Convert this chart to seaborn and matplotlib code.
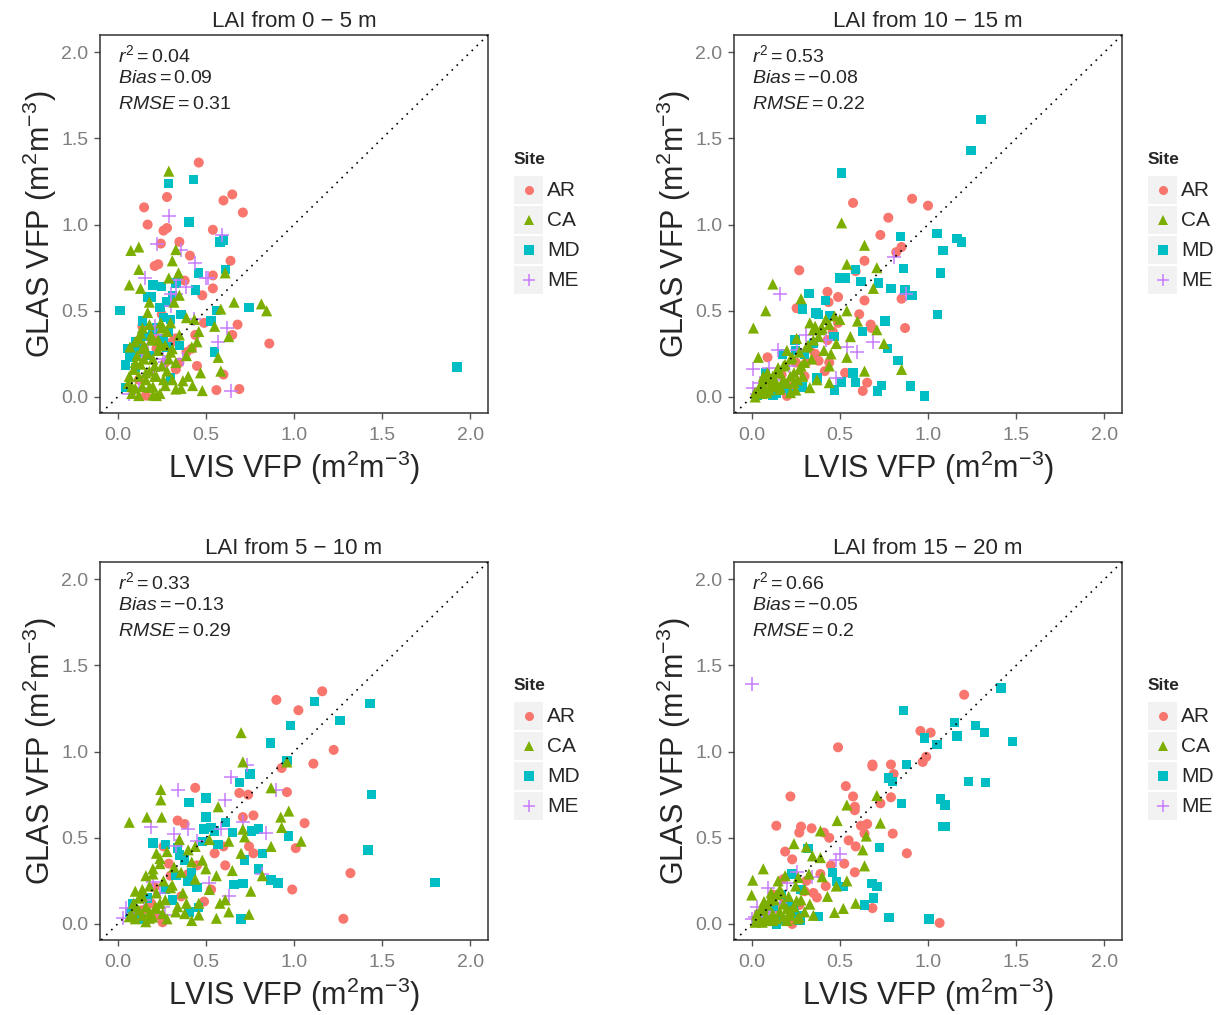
import numpy as np
import pandas as pd
import matplotlib
matplotlib.use("Agg")
import matplotlib.pyplot as plt
from matplotlib.patches import Rectangle
from matplotlib.lines import Line2D
import seaborn as sns

# ---------------- data ----------------
titles = ["LAI from 0 \u2212 5 m", "LAI from 10 \u2212 15 m", "LAI from 5 \u2212 10 m", "LAI from 15 \u2212 20 m"]
r2_vals = ["0.04", "0.53", "0.33", "0.66"]
bias_vals = ["0.09", "-0.08", "-0.13", "-0.05"]
rmse_vals = ["0.31", "0.22", "0.29", "0.2"]
sites = ["AR", "CA", "MD", "ME"]
tick_vals = [0.0, 0.5, 1.0, 1.5, 2.0]
tick_labels = ["0.0", "0.5", "1.0", "1.5", "2.0"]

# panel 1 : 0-5 m
p1_AR_x = [0.46, 0.65, 0.60, 0.71, 0.28, 0.15, 0.17, 0.26, 0.28, 0.54, 0.35, 0.245, 0.41, 0.21, 0.23, 0.64, 0.54, 0.38, 0.54, 0.48, 0.14, 0.49, 0.68, 0.65, 0.86, 0.42, 0.35, 0.60, 0.56, 0.69, 0.16, 0.22, 0.27, 0.33, 0.39, 0.12,
           0.20, 0.31, 0.44, 0.25, 0.33, 0.45]
p1_AR_y = [1.36, 1.175, 1.14, 1.07, 1.16, 1.10, 1.00, 0.965, 0.98, 0.97, 0.90, 0.89, 0.82, 0.76, 0.77, 0.79, 0.705, 0.675, 0.63, 0.59, 0.41, 0.43, 0.42, 0.36, 0.31, 0.28, 0.20, 0.13, 0.04, 0.046, 0.008, 0.28, 0.20, 0.34, 0.26, 0.10,
           0.35, 0.32, 0.36, 0.48, 0.16, 0.18]
p1_CA_x = [0.29, 0.075, 0.12, 0.33, 0.31, 0.12, 0.345, 0.29, 0.066, 0.13, 0.61, 0.66, 0.815, 0.845, 0.585, 0.18, 0.17, 0.245, 0.46, 0.55, 0.63, 0.45, 0.57, 0.585, 0.47, 0.425, 0.48, 0.22, 0.12, 0.37, 0.31, 0.10, 0.14, 0.20, 0.066, 0.16, 0.25, 0.10, 0.23, 0.28, 0.39, 0.33, 0.18, 0.27, 0.13, 0.39, 0.435, 0.35, 0.32, 0.08, 0.21, 0.15, 0.30, 0.24, 0.19,
           0.08, 0.10, 0.12, 0.14, 0.16, 0.18, 0.20, 0.22, 0.24, 0.26, 0.28, 0.09, 0.11, 0.13, 0.15, 0.17, 0.19, 0.21, 0.23, 0.25, 0.27, 0.29, 0.31, 0.33, 0.12, 0.07, 0.18, 0.14, 0.30, 0.35, 0.42, 0.40, 0.36, 0.06, 0.20]
p1_CA_y = [1.31, 0.85, 0.87, 0.855, 0.79, 0.74, 0.72, 0.69, 0.65, 0.63, 0.72, 0.55, 0.54, 0.50, 0.51, 0.55, 0.49, 0.43, 0.38, 0.41, 0.35, 0.32, 0.23, 0.15, 0.14, 0.066, 0.037, 0.008, 0.008, 0.094, 0.10, 0.32, 0.28, 0.22, 0.12, 0.14, 0.18, 0.20, 0.33, 0.38, 0.24, 0.046, 0.056, 0.066, 0.37, 0.46, 0.45, 0.59, 0.55, 0.06, 0.12, 0.22, 0.26, 0.30, 0.36,
           0.02, 0.05, 0.12, 0.06, 0.10, 0.15, 0.06, 0.12, 0.02, 0.10, 0.15, 0.16, 0.24, 0.19, 0.30, 0.25, 0.33, 0.18, 0.27, 0.40, 0.30, 0.22, 0.28, 0.20, 0.34, 0.29, 0.42, 0.40, 0.43, 0.36, 0.29, 0.12, 0.05, 0.08, 0.01]
p1_MD_x = [0.43, 0.29, 0.405, 0.58, 0.60, 0.61, 0.46, 0.013, 0.745, 1.925, 0.20, 0.25, 0.44, 0.19, 0.28, 0.56, 0.53, 0.29, 0.26, 0.057, 0.066, 0.043, 0.10, 0.35, 0.55, 0.043, 0.30, 0.20, 0.31, 0.33, 0.16, 0.12,
           0.08, 0.12, 0.18, 0.22, 0.26, 0.30, 0.14, 0.24, 0.17, 0.36, 0.10, 0.28]
p1_MD_y = [1.26, 1.24, 1.015, 0.90, 0.91, 0.74, 0.72, 0.50, 0.52, 0.175, 0.65, 0.64, 0.62, 0.58, 0.55, 0.50, 0.44, 0.38, 0.46, 0.28, 0.23, 0.185, 0.32, 0.30, 0.26, 0.056, 0.11, 0.39, 0.585, 0.66, 0.35, 0.26,
           0.26, 0.30, 0.24, 0.40, 0.34, 0.45, 0.44, 0.52, 0.58, 0.48, 0.17, 0.29]
p1_ME_x = [0.29, 0.225, 0.59, 0.36, 0.44, 0.50, 0.51, 0.157, 0.33, 0.39, 0.33, 0.30, 0.435, 0.62, 0.57, 0.27, 0.64, 0.066, 0.14, 0.37, 0.21,
           0.17, 0.23, 0.26, 0.30, 0.20, 0.12]
p1_ME_y = [1.05, 0.89, 0.94, 0.855, 0.78, 0.69, 0.69, 0.69, 0.68, 0.64, 0.595, 0.53, 0.45, 0.40, 0.32, 0.20, 0.033, 0.02, 0.25, 0.22, 0.41,
           0.31, 0.36, 0.22, 0.60, 0.15, 0.05]

# panel 2 : 10-15 m
p2_AR_x = [0.91, 1.00, 0.575, 0.775, 0.73, 0.85, 0.64, 0.27, 0.43, 0.436, 0.49, 0.61, 0.675, 0.68, 0.87, 0.85, 0.64, 0.255, 0.49, 0.43, 0.53, 0.655, 0.63, 0.20, 0.09, 0.415, 0.36, 0.31, 0.44, 0.82, 0.59,
           0.05, 0.11, 0.17, 0.25, 0.33, 0.38, 0.46, 0.22, 0.30]
p2_AR_y = [1.15, 1.11, 1.126, 1.04, 0.94, 0.87, 0.79, 0.735, 0.61, 0.55, 0.58, 0.48, 0.42, 0.40, 0.40, 0.57, 0.56, 0.515, 0.43, 0.33, 0.14, 0.083, 0.035, 0.006, 0.23, 0.15, 0.25, 0.20, 0.20, 0.84, 0.73,
           0.04, 0.08, 0.13, 0.20, 0.28, 0.21, 0.38, 0.06, 0.12]
p2_CA_x = [0.51, 0.64, 0.54, 0.71, 0.12, 0.28, 0.08, 0.01, 0.71, 0.75, 0.85, 0.64, 0.60, 0.54, 0.69, 0.33, 0.39, 0.42, 0.48, 0.54, 0.56, 0.44, 0.33, 0.22, 0.066, 0.038, 0.16, 0.255, 0.27, 0.12, 0.44, 0.019, 0.057, 0.10, 0.14, 0.18, 0.22, 0.085, 0.16, 0.24, 0.29, 0.37, 0.20, 0.31, 0.35,
           0.02, 0.04, 0.06, 0.08, 0.10, 0.12, 0.14, 0.16, 0.18, 0.20, 0.22, 0.24, 0.26, 0.28, 0.30, 0.12, 0.15, 0.19, 0.23, 0.27, 0.32, 0.35, 0.38, 0.44, 0.47, 0.41, 0.34, 0.25, 0.07, 0.05, 0.09, 0.40, 0.36, 0.45, 0.50]
p2_CA_y = [1.01, 0.88, 0.77, 0.75, 0.655, 0.57, 0.50, 0.40, 0.39, 0.31, 0.16, 0.15, 0.44, 0.50, 0.63, 0.43, 0.39, 0.45, 0.31, 0.23, 0.35, 0.18, 0.054, 0.025, 0.12, 0.23, 0.14, 0.34, 0.16, 0.083, 0.083, 0.025, 0.063, 0.10, 0.14, 0.18, 0.22, 0.025, 0.044, 0.083, 0.12, 0.10, 0.27, 0.29, 0.39,
           0.00, 0.03, 0.02, 0.05, 0.04, 0.06, 0.08, 0.06, 0.10, 0.08, 0.12, 0.14, 0.10, 0.18, 0.20, 0.12, 0.17, 0.19, 0.23, 0.26, 0.30, 0.33, 0.35, 0.42, 0.47, 0.27, 0.22, 0.04, 0.10, 0.07, 0.14, 0.40, 0.41, 0.25, 0.45]
p2_MD_x = [1.30, 1.245, 0.51, 1.05, 1.165, 1.19, 1.085, 0.845, 1.07, 0.86, 0.59, 0.50, 0.53, 0.62, 0.72, 0.79, 0.87, 0.91, 0.325, 0.29, 0.364, 1.055, 0.757, 0.63, 0.466, 0.245, 0.77, 0.83, 0.575, 0.51, 0.59, 0.736, 0.713, 0.90, 0.98, 0.29, 0.47, 0.08, 0.12, 0.37, 0.175, 0.35,
           0.03, 0.06, 0.14, 0.22, 0.18, 0.25, 0.30, 0.42, 0.38, 0.44]
p2_MD_y = [1.61, 1.43, 1.30, 0.95, 0.92, 0.90, 0.85, 0.93, 0.72, 0.745, 0.74, 0.69, 0.69, 0.67, 0.66, 0.63, 0.62, 0.59, 0.60, 0.51, 0.486, 0.48, 0.44, 0.38, 0.35, 0.33, 0.28, 0.21, 0.14, 0.086, 0.083, 0.067, 0.035, 0.063, 0.006, 0.058, 0.04, 0.14, 0.01, 0.11, 0.25, 0.31,
           0.01, 0.05, 0.02, 0.02, 0.05, 0.27, 0.25, 0.56, 0.48, 0.47]
p2_ME_x = [0.805, 0.877, 0.16, 0.69, 0.60, 0.31, 0.15, 0.006, 0.10, 0.26, 0.42, 0.48, 0.01, 0.54,
           0.03, 0.05, 0.13, 0.21]
p2_ME_y = [0.81, 0.60, 0.60, 0.32, 0.26, 0.36, 0.27, 0.163, 0.17, 0.27, 0.33, 0.11, 0.054, 0.29,
           0.02, 0.08, 0.10, 0.18]

# panel 3 : 5-10 m
p3_AR_x = [1.16, 0.90, 1.025, 1.225, 1.11, 0.93, 0.44, 0.69, 0.74, 0.96, 0.34, 0.38, 0.71, 0.77, 1.06, 0.26, 0.745, 1.01, 0.55, 0.77, 0.29, 0.61, 1.32, 0.99, 0.53, 0.49, 1.28, 0.255, 0.21, 0.14, 0.40,
           0.11, 0.19, 0.23, 0.30, 0.36, 0.45, 0.60]
p3_AR_y = [1.35, 1.30, 1.24, 1.01, 0.93, 0.905, 0.79, 0.76, 0.75, 0.765, 0.60, 0.58, 0.62, 0.63, 0.585, 0.45, 0.45, 0.44, 0.41, 0.41, 0.35, 0.34, 0.295, 0.20, 0.20, 0.13, 0.03, 0.01, 0.215, 0.08, 0.29,
           0.05, 0.12, 0.05, 0.28, 0.16, 0.34, 0.45]
p3_CA_x = [0.70, 0.71, 0.96, 0.245, 0.245, 0.87, 0.57, 0.066, 0.166, 0.25, 0.97, 0.925, 0.93, 1.04, 0.71, 0.72, 0.87, 0.35, 0.44, 0.40, 0.52, 0.70, 0.63, 0.22, 0.24, 0.20, 0.42, 0.48, 0.56, 0.65, 0.82, 0.755, 0.61, 0.63, 0.745, 0.56, 0.46, 0.066, 0.10, 0.14, 0.18, 0.215, 0.27, 0.33, 0.37, 0.16, 0.10, 0.46, 0.31, 0.39, 0.255,
           0.08, 0.10, 0.12, 0.14, 0.16, 0.18, 0.20, 0.22, 0.24, 0.12, 0.14, 0.18, 0.22, 0.26, 0.30, 0.34, 0.38, 0.42, 0.28, 0.16, 0.20, 0.24, 0.28, 0.32, 0.36, 0.44, 0.50, 0.52, 0.58, 0.09]
p3_CA_y = [1.11, 0.94, 0.94, 0.78, 0.72, 0.79, 0.68, 0.59, 0.62, 0.62, 0.655, 0.62, 0.56, 0.48, 0.55, 0.505, 0.45, 0.49, 0.45, 0.43, 0.49, 0.41, 0.48, 0.41, 0.35, 0.29, 0.36, 0.37, 0.28, 0.31, 0.28, 0.19, 0.14, 0.07, 0.056, 0.033, 0.052, 0.042, 0.10, 0.16, 0.033, 0.10, 0.14, 0.07, 0.18, 0.013, 0.19, 0.12, 0.225, 0.12, 0.06,
           0.05, 0.03, 0.08, 0.05, 0.10, 0.07, 0.04, 0.09, 0.12, 0.15, 0.20, 0.22, 0.18, 0.25, 0.21, 0.10, 0.06, 0.02, 0.03, 0.28, 0.32, 0.38, 0.42, 0.33, 0.30, 0.26, 0.32, 0.20, 0.12, 0.12]
p3_MD_x = [1.115, 1.43, 1.26, 0.98, 0.866, 0.96, 0.75, 0.69, 0.50, 0.405, 1.44, 0.50, 0.61, 0.49, 0.53, 0.55, 0.65, 0.80, 0.76, 0.97, 0.20, 1.42, 0.82, 0.72, 0.80, 1.80, 0.66, 0.71, 0.91, 0.87, 0.33, 0.40, 0.45, 0.405, 0.46, 0.70, 0.085, 0.38, 0.27, 0.34,
           0.07, 0.13, 0.17, 0.27, 0.31, 0.42, 0.35, 0.48, 0.57]
p3_MD_y = [1.29, 1.28, 1.18, 1.15, 1.05, 0.95, 0.87, 0.82, 0.73, 0.705, 0.75, 0.62, 0.59, 0.55, 0.56, 0.54, 0.53, 0.55, 0.54, 0.51, 0.47, 0.43, 0.41, 0.37, 0.32, 0.24, 0.23, 0.235, 0.237, 0.254, 0.28, 0.25, 0.21, 0.07, 0.094, 0.03, 0.12, 0.37, 0.46, 0.44,
           0.07, 0.03, 0.15, 0.20, 0.14, 0.30, 0.40, 0.48, 0.46]
p3_ME_x = [0.736, 0.64, 0.345, 0.61, 0.90, 0.19, 0.84, 0.71, 0.45, 0.33, 0.585, 0.20, 0.24, 0.52, 0.63, 0.047, 0.028, 0.27, 0.82,
           0.09, 0.15, 0.26, 0.32, 0.40]
p3_ME_y = [0.92, 0.855, 0.775, 0.72, 0.78, 0.56, 0.53, 0.59, 0.48, 0.45, 0.55, 0.245, 0.18, 0.235, 0.16, 0.09, 0.033, 0.052, 0.29,
           0.06, 0.14, 0.10, 0.52, 0.55]

# panel 4 : 15-20 m
p4_AR_x = [1.205, 0.957, 1.015, 0.49, 0.99, 0.97, 0.685, 0.685, 0.79, 0.805, 0.534, 0.22, 0.575, 0.79, 0.73, 0.585, 0.585, 0.14, 0.28, 0.27, 0.34, 0.41, 0.44, 0.62, 0.655, 0.64, 0.80, 0.55, 0.59, 0.19, 0.23, 0.88, 0.45, 0.525, 0.585, 0.18, 0.30, 0.37, 0.685, 1.066, 0.12, 0.16, 0.066, 0.39,
           0.04, 0.09, 0.13, 0.19, 0.23, 0.27, 0.31, 0.35, 0.42]
p4_AR_y = [1.33, 1.12, 1.11, 1.025, 0.97, 0.94, 0.925, 0.915, 0.925, 0.87, 0.80, 0.74, 0.74, 0.735, 0.70, 0.68, 0.66, 0.57, 0.565, 0.53, 0.555, 0.53, 0.50, 0.57, 0.58, 0.525, 0.524, 0.485, 0.45, 0.42, 0.375, 0.41, 0.34, 0.35, 0.30, 0.26, 0.19, 0.154, 0.092, 0.006, 0.17, 0.02, 0.03, 0.29,
           0.06, 0.02, 0.09, 0.13, 0.00, 0.11, 0.25, 0.18, 0.22]
p4_CA_x = [0.71, 0.54, 0.485, 0.73, 0.39, 0.24, 0.31, 0.65, 0.63, 0.345, 0.39, 0.64, 0.066, 0.006, 0.0, 0.264, 0.325, 0.40, 0.48, 0.54, 0.43, 0.30, 0.59, 0.52, 0.47, 0.33, 0.028, 0.066, 0.10, 0.14, 0.18, 0.22, 0.255, 0.12, 0.20, 0.085, 0.16, 0.27,
           0.02, 0.04, 0.06, 0.08, 0.10, 0.12, 0.14, 0.16, 0.18, 0.20, 0.22, 0.24, 0.05, 0.09, 0.13, 0.17, 0.21, 0.25, 0.11, 0.07, 0.15, 0.19, 0.28, 0.30, 0.35, 0.26, 0.03]
p4_CA_y = [0.745, 0.69, 0.60, 0.585, 0.54, 0.466, 0.447, 0.51, 0.43, 0.395, 0.385, 0.337, 0.32, 0.254, 0.168, 0.27, 0.29, 0.274, 0.22, 0.25, 0.16, 0.20, 0.12, 0.09, 0.067, 0.115, 0.058, 0.096, 0.135, 0.17, 0.115, 0.077, 0.135, 0.02, 0.02, 0.04, 0.20, 0.04,
           0.01, 0.03, 0.01, 0.04, 0.02, 0.06, 0.03, 0.07, 0.04, 0.09, 0.05, 0.10, 0.08, 0.11, 0.14, 0.18, 0.16, 0.22, 0.18, 0.13, 0.25, 0.28, 0.14, 0.07, 0.05, 0.03, 0.05]
p4_MD_x = [1.415, 0.86, 1.15, 1.27, 1.32, 1.48, 0.98, 1.05, 1.165, 0.877, 0.775, 0.80, 1.23, 1.326, 0.85, 1.07, 1.096, 1.085, 1.10, 0.726, 0.32, 0.23, 0.46, 0.52, 0.48, 0.683, 0.71, 0.69, 0.64, 0.78, 1.006, 0.38, 0.27, 0.275, 0.28, 0.17, 0.236,
           0.03, 0.07, 0.12, 0.17, 0.21, 0.14, 0.24]
p4_MD_y = [1.37, 1.24, 1.17, 1.15, 1.11, 1.06, 1.08, 1.04, 1.09, 0.925, 0.846, 0.827, 0.825, 0.82, 0.70, 0.726, 0.69, 0.565, 0.565, 0.443, 0.437, 0.29, 0.30, 0.218, 0.247, 0.235, 0.218, 0.15, 0.11, 0.038, 0.03, 0.042, 0.048, 0.023, 0.20, 0.17, 0.077,
           0.02, 0.06, 0.10, 0.02, 0.12, 0.00, 0.06]
p4_ME_x = [0.0, 0.50, 0.48, 0.34, 0.255, 0.028, 0.0, 0.066, 0.094,
           0.02, 0.05, 0.10, 0.16, 0.20]
p4_ME_y = [1.39, 0.405, 0.37, 0.274, 0.30, 0.096, 0.03, 0.058, 0.21,
           0.04, 0.02, 0.07, 0.12, 0.24]

panels = [
    {"AR": (p1_AR_x, p1_AR_y), "CA": (p1_CA_x, p1_CA_y), "MD": (p1_MD_x, p1_MD_y), "ME": (p1_ME_x, p1_ME_y)},
    {"AR": (p2_AR_x, p2_AR_y), "CA": (p2_CA_x, p2_CA_y), "MD": (p2_MD_x, p2_MD_y), "ME": (p2_ME_x, p2_ME_y)},
    {"AR": (p3_AR_x, p3_AR_y), "CA": (p3_CA_x, p3_CA_y), "MD": (p3_MD_x, p3_MD_y), "ME": (p3_ME_x, p3_ME_y)},
    {"AR": (p4_AR_x, p4_AR_y), "CA": (p4_CA_x, p4_CA_y), "MD": (p4_MD_x, p4_MD_y), "ME": (p4_ME_x, p4_ME_y)},
]

# ---------------- style ----------------
sns.set_style("white")
plt.rcParams["font.family"] = ["Liberation Sans", "DejaVu Sans"]
plt.rcParams["mathtext.fontset"] = "custom"
plt.rcParams["mathtext.rm"] = "Liberation Sans"
plt.rcParams["mathtext.it"] = "Liberation Sans:italic"
plt.rcParams["mathtext.bf"] = "Liberation Sans:bold"

colors = {"AR": "#F8766D", "CA": "#7CAE00", "MD": "#00BFC4", "ME": "#C77CFF"}
markers = {"AR": "o", "CA": "^", "MD": "s", "ME": "+"}
sizes = {"AR": 52, "CA": 64, "MD": 46, "ME": 100}
draw_order = ["AR", "MD", "ME", "CA"]

W, H = 1220, 1015
fig = plt.figure(figsize=(W / 100, H / 100), dpi=100)

# axes boxes in pixels: (left, top, width, height)
boxes = [(100, 35, 388, 378), (734, 35, 388, 378), (100, 562, 388, 378), (734, 562, 388, 378)]
legend_pos = [(514, 160), (1148, 160), (514, 686), (1148, 686)]

for i, (bx, by, bw, bh) in enumerate(boxes):
    ax = fig.add_axes([bx / W, 1 - (by + bh) / H, bw / W, bh / H])
    for s in draw_order:
        xs, ys = panels[i][s]
        df = pd.DataFrame({"x": xs, "y": ys})
        kw = dict(color=colors[s], marker=markers[s], s=sizes[s], zorder=3)
        if s == "ME":
            kw.update(linewidth=1.1)
        else:
            kw.update(edgecolor="none")
        sns.scatterplot(data=df, x="x", y="y", ax=ax, legend=False, **kw)
    ax.axline((0, 0), slope=1, color="black", lw=1.2, ls=(0, (1, 3.2)), zorder=4)
    ax.set_xlim(-0.1, 2.1)
    ax.set_ylim(-0.093, 2.1)
    ax.set_xticks(tick_vals)
    ax.set_xticklabels(tick_labels)
    ax.set_yticks(tick_vals)
    ax.set_yticklabels(tick_labels)
    ax.tick_params(axis="both", which="both", direction="out", length=4.3, width=1,
                   color="#555555", labelcolor="#7f7f7f", labelsize=14,
                   bottom=True, left=True)
    ax.tick_params(axis="x", pad=6)
    ax.tick_params(axis="y", pad=4)
    for sp in ax.spines.values():
        sp.set_color("#333333")
        sp.set_linewidth(1.1)
    ax.set_xlabel("LVIS VFP (m$^2$m$^{-3}$)", fontsize=22, labelpad=3)
    ax.set_ylabel("GLAS VFP (m$^2$m$^{-3}$)", fontsize=22, labelpad=2)
    ax.set_title(titles[i], fontsize=16, pad=6)
    b = bias_vals[i].replace("-", "\u2212")
    ax.text(0.047, 1 - 20 / bh, r"$r^2 = $" + r2_vals[i], transform=ax.transAxes,
            fontsize=14, va="center", ha="left")
    ax.text(0.047, 1 - 44 / bh, r"$Bias = $" + b, transform=ax.transAxes,
            fontsize=14, va="center", ha="left")
    ax.text(0.047, 1 - 70 / bh, r"$RMSE = $" + rmse_vals[i], transform=ax.transAxes,
            fontsize=14, va="center", ha="left")

    # legend
    lx, ly = legend_pos[i]
    fig.text(lx / W, 1 - ly / H, "Site", fontsize=12.5, fontweight="bold", va="center", ha="left")
    for j, s in enumerate(sites):
        cy = ly + 30 + 30 * j
        fig.add_artist(Rectangle((lx / W, 1 - (cy + 14) / H), 29 / W, 28 / H,
                                 transform=fig.transFigure, facecolor="#f2f2f2",
                                 edgecolor="none"))
        mk = dict(marker=markers[s], color=colors[s], linestyle="none", markersize=6.5,
                  transform=fig.transFigure)
        if s == "ME":
            mk.update(markersize=9, markeredgewidth=1.1)
        else:
            mk.update(markeredgewidth=0)
        fig.add_artist(Line2D([(lx + 14.5) / W], [1 - cy / H], **mk))
        fig.text((lx + 33) / W, 1 - cy / H, s, fontsize=15, va="center", ha="left")

fig.savefig("out.png", dpi=100)
